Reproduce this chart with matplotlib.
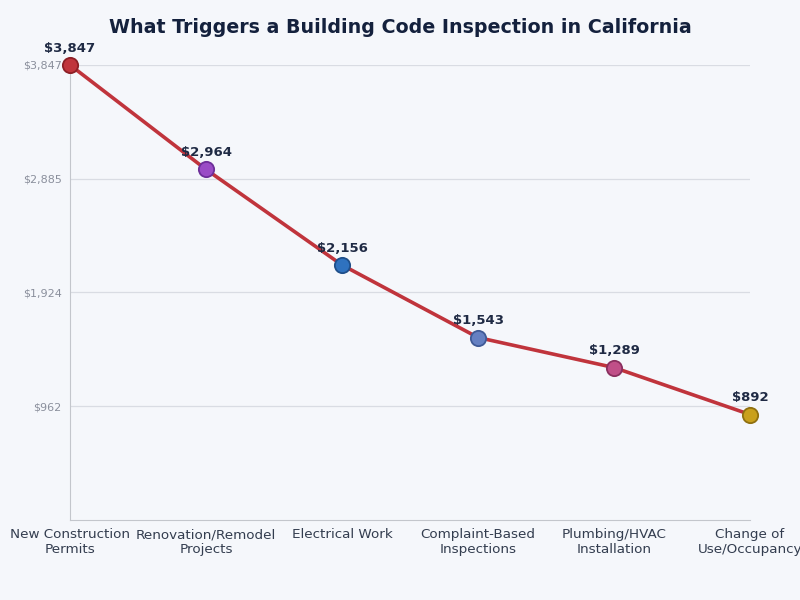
import matplotlib.pyplot as plt

categories = ["New Construction\nPermits", "Renovation/Remodel\nProjects", "Electrical Work",
              "Complaint-Based\nInspections", "Plumbing/HVAC\nInstallation", "Change of\nUse/Occupancy"]
values = [3847, 2964, 2156, 1543, 1289, 892]
yticks = [962, 1924, 2885, 3847]
point_colors = ["#c0343c", "#9a4cc6", "#2f72bf", "#6580c2", "#c04f88", "#c9a01c"]
edge_colors = ["#8c1f26", "#6d2f99", "#1f4f8a", "#3f5a96", "#8a2f5f", "#8f7010"]

bg = "#f5f7fb"
fig = plt.figure(figsize=(8, 6), dpi=100, facecolor=bg)
ax = fig.add_axes([0.0875, 0.1333, 0.85, 0.7584], facecolor=bg)

x = list(range(len(values)))
ax.plot(x, values, color="#c0343c", linewidth=2.6, zorder=2, clip_on=False)
for xi, v, c, ec in zip(x, values, point_colors, edge_colors):
    ax.plot(xi, v, 'o', ms=11, color=c, mec=ec, mew=1.3, zorder=3, clip_on=False)
    ax.annotate(f"${v:,}", (xi, v), xytext=(0, 7.5), textcoords="offset points",
                ha="center", va="bottom", fontsize=9.5, fontweight="bold", color="#1f2a44")

ax.set_xlim(0, 5)
ax.set_ylim(0, 3847)
ax.set_xticks(x)
ax.set_xticklabels(categories, fontsize=9.7, color="#333d4f")
ax.set_yticks(yticks)
ax.set_yticklabels([f"${t:,}" for t in yticks], fontsize=8, color="#8a8f9c")
ax.tick_params(length=0, pad=6)
ax.grid(axis="y", color="#d9dce3", linewidth=0.9)
ax.set_axisbelow(True)
for s in ["top", "right"]:
    ax.spines[s].set_visible(False)
for s in ["left", "bottom"]:
    ax.spines[s].set_color("#c3c6cc")

fig.suptitle("What Triggers a Building Code Inspection in California", y=0.97,
             fontsize=13.7, fontweight="bold", color="#14213d")

fig.savefig("out.png", dpi=100, facecolor=bg)
